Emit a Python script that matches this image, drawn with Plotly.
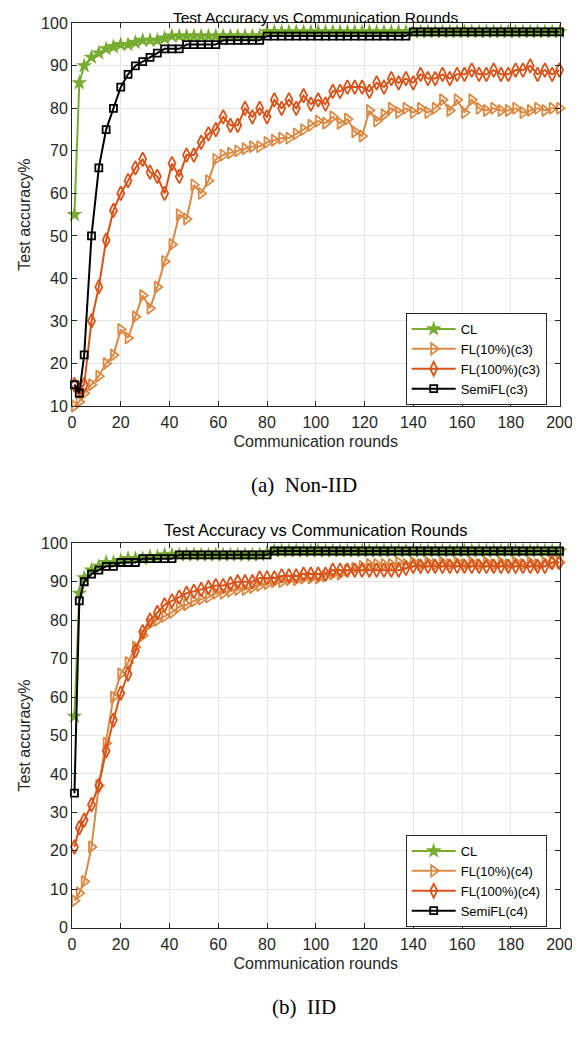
import plotly.graph_objects as go

# === Раунди зв'язку (спільні для всіх кривих) ===
rounds = [1, 3] + list(range(5, 201, 3))

# === (a) Non-IID ===
noniid_cl = [55, 86, 90, 92, 93, 94, 94.5, 95, 95, 95.5,
             96, 96, 96, 96.5, 97, 97, 97, 97, 97, 97,
             97, 97, 97, 97, 97, 97, 97, 98, 98, 98,
             98, 98, 98, 98, 98, 98, 98, 98, 98, 98,
             98, 98, 98, 98, 98, 98, 98, 98, 98, 98,
             98, 98, 98, 98, 98, 98, 98, 98, 98, 98,
             98, 98, 98, 98, 98, 98, 98, 98]
noniid_fl10 = [10, 11, 13, 15, 17, 20, 22, 28, 26, 31,
               36, 33, 38, 44, 48, 55, 54, 62, 60, 63,
               68, 69, 69.5, 70, 70.5, 71, 71, 72, 72.5, 73,
               73, 74, 75, 76, 77, 76.5, 78, 76.5, 77.5, 74.5,
               73.5, 79.5, 77, 78.5, 80, 79, 80, 79, 80, 79,
               80, 82, 79.5, 82, 79, 82, 80, 79.5, 80, 79.5,
               79.5, 80, 79, 79.5, 80, 79.5, 80, 80]
noniid_fl100 = [15, 14, 15, 30, 38, 49, 56, 60, 63, 66,
                68, 65, 64, 60, 67, 64, 69, 69, 72, 74,
                75, 78, 76, 76, 80, 78, 80, 78, 82, 80,
                82, 80, 83, 81, 82, 81, 84, 84, 85, 85,
                85, 84, 86, 85, 87, 86, 87, 86, 88, 87,
                87, 88, 87, 88, 88, 89, 88, 88, 89, 88,
                88, 89, 89, 90, 88, 89, 88, 89]
noniid_semi = [15, 13, 22, 50, 66, 75, 80, 85, 88, 90,
               91, 92, 93, 94, 94, 94, 95, 95, 95, 95,
               95, 96, 96, 96, 96, 96, 96, 97, 97, 97,
               97, 97, 97, 97, 97, 97, 97, 97, 97, 97,
               97, 97, 97, 97, 97, 97, 97, 98, 98, 98,
               98, 98, 98, 98, 98, 98, 98, 98, 98, 98,
               98, 98, 98, 98, 98, 98, 98, 98]

# === (b) IID ===
iid_cl = [55, 87, 91, 93, 94, 95, 95, 95.5, 96, 96,
          96, 96.5, 96.5, 97, 97, 97, 97, 97, 97, 97,
          97, 97, 97, 97, 97, 97, 97, 97.5, 98, 98,
          98, 98, 98, 98, 98, 98, 98, 98, 98, 98,
          98, 98, 98, 98, 98, 98, 98, 98, 98, 98,
          98, 98, 98, 98, 98, 98, 98, 98, 98, 98,
          98, 98, 98, 98, 98, 98, 98, 98]
iid_fl10 = [7, 9, 12, 21, 37, 48, 60, 66, 69, 73,
            76, 79, 80, 81, 82, 83.5, 84, 85, 85.5, 86,
            87, 87, 87.5, 88, 88, 88.5, 89, 89.5, 90, 90,
            90.5, 90.5, 91, 91, 91, 91.5, 92, 92, 93, 93.5,
            94, 94.5, 94.5, 94.5, 94.5, 95, 94.5, 95, 94.5, 95,
            94.5, 95, 94.5, 95, 94.5, 95, 94.5, 95, 94.5, 95,
            94.5, 95, 94.5, 95, 94.5, 95, 95, 95]
iid_fl100 = [21, 26, 28, 32, 37, 46, 54, 61, 66, 72,
             77, 80, 82, 84, 85, 86, 87, 87.5, 88, 88.5,
             89, 89, 89.5, 90, 90, 90, 91, 91, 91, 91.5,
             91.5, 91.5, 92, 92, 92, 92, 93, 93, 93, 93,
             93, 93, 93, 93, 93, 93, 93.5, 94, 94, 94,
             94, 94, 94, 94, 94, 94, 94, 94, 94, 94,
             94, 94, 94, 94, 94, 94, 95, 95]
iid_semi = [35, 85, 90, 92, 93, 94, 94, 95, 95, 95,
            96, 96, 96, 96, 96, 97, 97, 97, 97, 97,
            97, 97, 97, 97, 97, 97, 97, 97, 98, 98,
            98, 98, 98, 98, 98, 98, 98, 98, 98, 98,
            98, 98, 98, 98, 98, 98, 98, 98, 98, 98,
            98, 98, 98, 98, 98, 98, 98, 98, 98, 98,
            98, 98, 98, 98, 98, 98, 98, 98]

x_ticks = [0, 20, 40, 60, 80, 100, 120, 140, 160, 180, 200]

GREEN = "#77AC30"
LIGHT_ORANGE = "#D98A45"
DARK_ORANGE = "#D95319"
BLACK = "#000000"
SANS = "Liberation Sans, Arial, sans-serif"
SERIF = "Liberation Serif, Times New Roman, serif"

styles = [
    dict(color=GREEN, symbol="star", size=12, fill=True),
    dict(color=LIGHT_ORANGE, symbol="triangle-right-open", size=10, fill=False),
    dict(color=DARK_ORANGE, symbol="diamond-tall-open", size=10, fill=False),
    dict(color=BLACK, symbol="square-open", size=7, fill=False),
]

fig = go.Figure()

panels = [
    ("x", "y", "legend", [noniid_cl, noniid_fl10, noniid_fl100, noniid_semi],
     ["CL", "FL(10%)(c3)", "FL(100%)(c3)", "SemiFL(c3)"]),
    ("x2", "y2", "legend2", [iid_cl, iid_fl10, iid_fl100, iid_semi],
     ["CL", "FL(10%)(c4)", "FL(100%)(c4)", "SemiFL(c4)"]),
]

for xa, ya, leg, series, names in panels:
    for vals, name, st in zip(series, names, styles):
        fig.add_trace(go.Scatter(
            x=rounds, y=vals, name=name, mode="lines+markers",
            xaxis=xa, yaxis=ya, legend=leg, cliponaxis=False,
            line=dict(color=st["color"], width=2),
            marker=dict(symbol=st["symbol"], size=st["size"],
                        color=st["color"],
                        line=dict(color=st["color"], width=0 if st["fill"] else 1.8)),
        ))

# сторінка має поле 8px, тому фігура менша і зсунута
W, H, OFF = 572, 1044, 8


def px(v):
    return (v - OFF) / W


def py(v):
    return 1 - (v - OFF) / H


axis_common = dict(
    showline=True, linecolor="#262626", linewidth=1, mirror="ticks",
    ticks="inside", ticklen=5, tickcolor="#262626", automargin=False,
    showgrid=True, gridcolor="#E6E6E6", gridwidth=1, zeroline=False,
    tickfont=dict(family=SANS, size=16, color="#262626"),
)
title_font = dict(family=SANS, size=16, color="#262626")

x_dom = [px(72), px(559.5)]
y1_dom = [py(406), py(23.3)]
y2_dom = [py(927.7), py(543.3)]

legend_common = dict(
    xanchor="right", yanchor="top", bgcolor="white",
    bordercolor="#262626", borderwidth=1, tracegroupgap=0, itemwidth=44,
    font=dict(family=SANS, size=13, color="#000"),
)

fig.update_layout(
    width=W, height=H,
    margin=dict(l=0, r=0, t=0, b=0, pad=0, autoexpand=False),
    paper_bgcolor="white", plot_bgcolor="white",
    xaxis=dict(domain=x_dom, range=[0, 200], tickvals=x_ticks, anchor="y",
               ticklabelstandoff=2,
               title=dict(text="Communication rounds", standoff=5, font=title_font),
               **axis_common),
    yaxis=dict(domain=y1_dom, range=[10, 100], dtick=10, anchor="x",
               title=dict(text="Test accuracy%", standoff=6, font=title_font),
               **axis_common),
    xaxis2=dict(domain=x_dom, range=[0, 200], tickvals=x_ticks, anchor="y2",
                ticklabelstandoff=2,
                title=dict(text="Communication rounds", standoff=5, font=title_font),
                **axis_common),
    yaxis2=dict(domain=y2_dom, range=[0, 100], dtick=10, anchor="x2",
                title=dict(text="Test accuracy%", standoff=6, font=title_font),
                **axis_common),
    legend=dict(x=px(546.7), y=py(313), **legend_common),
    legend2=dict(x=px(546.7), y=py(835), **legend_common),
    annotations=[
        dict(text="Test Accuracy vs Communication Rounds", x=px(315.7), y=1,
             xref="paper", yref="paper", showarrow=False, yanchor="top",
             borderpad=0, font=dict(family=SANS, size=15.5, color="#000")),
        dict(text="Test Accuracy vs Communication Rounds", x=px(315.7), y=py(530),
             xref="paper", yref="paper", showarrow=False, yanchor="middle",
             font=dict(family=SANS, size=16.5, color="#000")),
        dict(text="(a)  Non-IID", x=px(304), y=py(485),
             xref="paper", yref="paper", showarrow=False, yanchor="middle",
             font=dict(family=SERIF, size=21, color="#000")),
        dict(text="(b)  IID", x=px(304), y=py(1007),
             xref="paper", yref="paper", showarrow=False, yanchor="middle",
             font=dict(family=SERIF, size=21, color="#000")),
    ],
)

fig.write_html("out.html")
